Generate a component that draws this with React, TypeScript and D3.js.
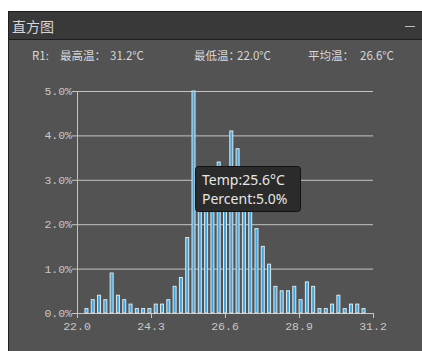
import React, { useEffect, useRef } from "react";
import * as d3 from "d3";

// temperature bins (°C) and share of pixels per bin (%)
const temps = [
  "22.0", "22.2", "22.4", "22.6", "22.8", "23.0", "23.2", "23.4", "23.6", "23.8",
  "24.0", "24.2", "24.4", "24.6", "24.8", "25.0", "25.2", "25.4", "25.6", "25.8",
  "26.0", "26.2", "26.4", "26.6", "26.8", "27.0", "27.2", "27.4", "27.6", "27.8",
  "28.0", "28.2", "28.4", "28.6", "28.8", "29.0", "29.2", "29.4", "29.6", "29.8",
  "30.0", "30.2", "30.4", "30.6", "30.8", "31.0", "31.2",
];
const percents = [
  0, 0.1, 0.3, 0.4, 0.3, 0.9, 0.4, 0.3, 0.2, 0.1,
  0.1, 0.1, 0.2, 0.2, 0.3, 0.6, 0.8, 1.7, 5.0, 3.0,
  2.8, 3.2, 3.4, 3.1, 4.1, 3.7, 3.1, 2.6, 1.9, 1.5,
  1.1, 0.6, 0.5, 0.5, 0.6, 0.3, 0.7, 0.6, 0.1, 0.1,
  0.2, 0.4, 0.1, 0.2, 0.2, 0.1, 0,
];
const xTicks = [22.0, 24.3, 26.6, 28.9, 31.2];
const yTicks = [0, 1, 2, 3, 4, 5];
const stats = [
  { label: "最高温：", value: "31.2°C" },
  { label: "最低温：", value: "22.0°C" },
  { label: "平均温：", value: "26.6°C" },
];
const hovered = { temp: "25.6", percent: 5.0 };

export default function App() {
  const svgRef = useRef<SVGSVGElement>(null);

  useEffect(() => {
    const svg = d3.select(svgRef.current);
    svg.selectAll("*").remove();

    const W = 422;
    const H = 351;
    const plot = { left: 77, right: 373, top: 91, bottom: 313 };
    const cjk = "'Noto Sans CJK SC', 'Noto Sans', sans-serif";
    const mono = "'Liberation Mono', 'DejaVu Sans Mono', monospace";

    svg.attr("width", W).attr("height", H);
    svg.append("rect").attr("width", W).attr("height", H).attr("fill", "#ffffff");

    // panel
    svg.append("rect").attr("x", 8).attr("y", 11).attr("width", W - 8).attr("height", H - 11).attr("fill", "#1f1f1f");
    svg.append("rect").attr("x", 9).attr("y", 12).attr("width", W - 9).attr("height", 27).attr("fill", "#393939");
    svg.append("rect").attr("x", 9).attr("y", 40).attr("width", W - 9).attr("height", H - 40).attr("fill", "#535353");

    svg.append("text")
      .attr("x", 12).attr("y", 32)
      .attr("fill", "#d6d6d6").attr("font-family", cjk).attr("font-size", 14)
      .text("直方图");
    svg.append("line")
      .attr("x1", 405).attr("x2", 415).attr("y1", 26.5).attr("y2", 26.5)
      .attr("stroke", "#bdbdbd").attr("stroke-width", 1);

    // header stats
    const header = svg.append("g").attr("font-family", cjk).attr("font-size", 11.5).attr("fill", "#d8d8d8");
    header.append("text").attr("x", 32).attr("y", 60).text("R1:");
    const statX = [60, 194, 308];
    const valueX = [110, 237, 360];
    stats.forEach((s, i) => {
      header.append("text").attr("x", statX[i]).attr("y", 60).text(s.label);
      header.append("text").attr("x", valueX[i]).attr("y", 60).text(s.value);
    });

    const x = d3.scaleLinear().domain([xTicks[0], xTicks[xTicks.length - 1]]).range([plot.left, plot.right]);
    const band = d3.scaleBand<string>().domain(temps).range([plot.left, plot.right]);
    const y = d3.scaleLinear().domain([0, 5]).range([plot.bottom, plot.top]);

    // grid
    svg.append("g").selectAll("line")
      .data(yTicks).enter().append("line")
      .attr("x1", plot.left - 5).attr("x2", plot.right)
      .attr("y1", (d) => y(d) + 0.5).attr("y2", (d) => y(d) + 0.5)
      .attr("stroke", "#c4c4c4").attr("stroke-width", 1);

    svg.append("line")
      .attr("x1", plot.left + 0.5).attr("x2", plot.left + 0.5)
      .attr("y1", plot.top).attr("y2", plot.bottom + 5)
      .attr("stroke", "#c4c4c4");

    svg.append("g").selectAll("text")
      .data(yTicks).enter().append("text")
      .attr("x", plot.left - 5).attr("y", (d) => y(d) + 4)
      .attr("text-anchor", "end")
      .attr("fill", "#c8c8c8").attr("font-family", mono).attr("font-size", 11.5)
      .text((d) => d.toFixed(1) + "%");

    // x ticks
    svg.append("g").selectAll("line")
      .data(xTicks).enter().append("line")
      .attr("x1", (d) => Math.round(x(d)) + 0.5).attr("x2", (d) => Math.round(x(d)) + 0.5)
      .attr("y1", plot.bottom).attr("y2", plot.bottom + 5)
      .attr("stroke", "#c4c4c4");
    svg.append("g").selectAll("text")
      .data(xTicks).enter().append("text")
      .attr("x", (d) => x(d)).attr("y", 330)
      .attr("text-anchor", "middle")
      .attr("fill", "#c8c8c8").attr("font-family", mono).attr("font-size", 11.5)
      .text((d) => d.toFixed(1));

    // bars
    const bw = 3;
    svg.append("g").selectAll("rect")
      .data(temps.map((t, i) => ({ t, v: percents[i] })))
      .enter().append("rect")
      .attr("x", (d) => band(d.t)! + (band.step() - bw) / 2)
      .attr("y", (d) => y(d.v))
      .attr("width", bw)
      .attr("height", (d) => y(0) - y(d.v))
      .attr("fill", "#3ea7e2")
      .attr("stroke", "#dfe6ea").attr("stroke-width", 1);

    // tooltip
    const tip = svg.append("g").attr("transform", "translate(195,166)");
    tip.append("rect")
      .attr("x", 0.5).attr("y", 0.5).attr("width", 105).attr("height", 45).attr("rx", 3)
      .attr("fill", "#2b2b2b").attr("stroke", "#121212");
    tip.append("text")
      .attr("x", 7).attr("y", 19)
      .attr("fill", "#e6e6e6").attr("font-family", "'Noto Sans', sans-serif").attr("font-size", 14)
      .text(`Temp:${hovered.temp}°C`);
    tip.append("text")
      .attr("x", 7).attr("y", 38)
      .attr("fill", "#e6e6e6").attr("font-family", "'Noto Sans', sans-serif").attr("font-size", 14)
      .text(`Percent:${hovered.percent.toFixed(1)}%`);
  }, []);

  return (
    <svg ref={svgRef} style={{ position: "fixed", left: 0, top: 0, display: "block" }} />
  );
}
